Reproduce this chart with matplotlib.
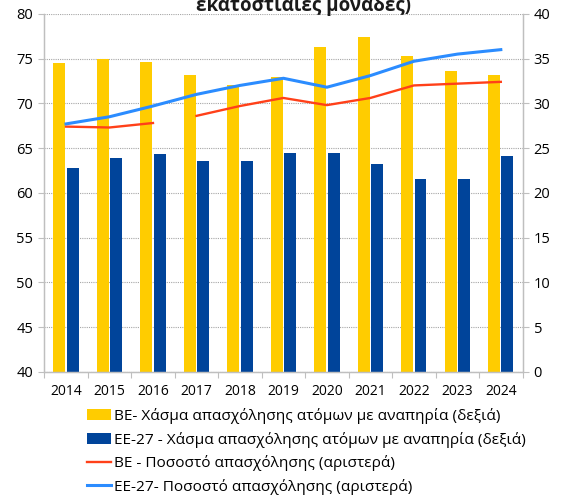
import matplotlib

matplotlib.use("Agg")

import matplotlib.pyplot as plt
import numpy as np
from matplotlib.patches import Patch
from matplotlib.lines import Line2D

plt.rcParams["font.family"] = ["Open Sans", "Noto Sans", "DejaVu Sans"]

years = ["2014", "2015", "2016", "2017", "2018", "2019",
         "2020", "2021", "2022", "2023", "2024"]

# employment gap of persons with disability, percentage points (right axis)
gap_gr = [34.5, 35.0, 34.6, 33.2, 32.0, 32.9, 36.3, 37.4, 35.3, 33.6, 33.2]
gap_eu = [22.8, 23.9, 24.3, 23.5, 23.5, 24.5, 24.5, 23.2, 21.5, 21.5, 24.1]

# employment rate, % (left axis)
rate_gr = [67.4, 67.3, 67.8, 68.6, 69.7, 70.6, 69.8, 70.6, 72.0, 72.2, 72.4]
rate_eu = [67.7, 68.5, 69.7, 71.0, 72.0, 72.8, 71.8, 73.1, 74.7, 75.5, 76.0]
gr_break = 3  # the Greek series is not linked between 2016 and 2017

labels = [
    "ΒΕ- Χάσμα απασχόλησης ατόμων με αναπηρία (δεξιά)",
    "ΕΕ-27 - Χάσμα απασχόλησης ατόμων με αναπηρία (δεξιά)",
    "ΒΕ - Ποσοστό απασχόλησης (αριστερά)",
    "ΕΕ-27- Ποσοστό απασχόλησης (αριστερά)",
]

YELLOW = "#FFCC00"
NAVY = "#00449A"
RED = "#FF4019"
SKY = "#2B8CFF"
GREY = "#BFBFBF"

fig = plt.figure(figsize=(5.64, 4.95), dpi=100)
ax2 = fig.add_axes([0.0785, 0.249, 0.848, 0.723])
ax = ax2.twinx()
ax.set_zorder(ax2.get_zorder() + 1)
ax.patch.set_visible(False)

x = np.arange(len(years))
width = 0.275
ax2.bar(x - 0.153, gap_gr, width, color=YELLOW, zorder=2)
ax2.bar(x + 0.153, gap_eu, width, color=NAVY, zorder=2)

ax.plot(x[:gr_break], rate_gr[:gr_break], color=RED, lw=1.7)
ax.plot(x[gr_break:], rate_gr[gr_break:], color=RED, lw=1.7)
ax.plot(x, rate_eu, color=SKY, lw=2.2)

# bars on the right scale, lines on the left one
ax2.set_ylim(0, 40)
ax.set_ylim(40, 80)
ax2.set_xlim(-0.5, len(years) - 0.5)
ax2.yaxis.tick_right()
ax.yaxis.tick_left()
ax2.set_yticks(np.arange(0, 41, 5))
ax.set_yticks(np.arange(40, 81, 5))

ax2.set_xticks(np.arange(-0.5, len(years), 1.0))
ax2.set_xticklabels([])
ax2.set_xticks(x, years, minor=True)
ax2.tick_params(axis="x", which="minor", length=0, pad=9, labelsize=10)
ax2.tick_params(axis="x", which="major", length=4, color=GREY)
for a in (ax, ax2):
    a.tick_params(axis="y", length=4, color=GREY, labelsize=10.5, pad=4)

ax2.yaxis.grid(True, color="#A6A6A6", linestyle=(0, (1, 1)), lw=0.8, zorder=0)
ax2.set_axisbelow(True)

for a in (ax, ax2):
    a.spines["top"].set_visible(False)
    for side in ("left", "right", "bottom"):
        a.spines[side].set_color(GREY)
        a.spines[side].set_linewidth(0.9)

fig.text(0.538, 0.978, "εκατοστιαίες μονάδες)", ha="center", va="baseline",
         fontsize=13.5, fontweight="bold", color="#1A1A1A")

handles = [
    Patch(facecolor=YELLOW),
    Patch(facecolor=NAVY),
    Line2D([], [], color=RED, lw=1.7),
    Line2D([], [], color=SKY, lw=2.2),
]
fig.legend(handles, labels, loc="upper left", bbox_to_anchor=(0.155, 0.176),
           frameon=False, fontsize=11.1, handlelength=1.55, handleheight=0.75,
           handletextpad=0.15, labelspacing=0.5, borderaxespad=0,
           borderpad=0)

fig.savefig("out.png", dpi=100)
